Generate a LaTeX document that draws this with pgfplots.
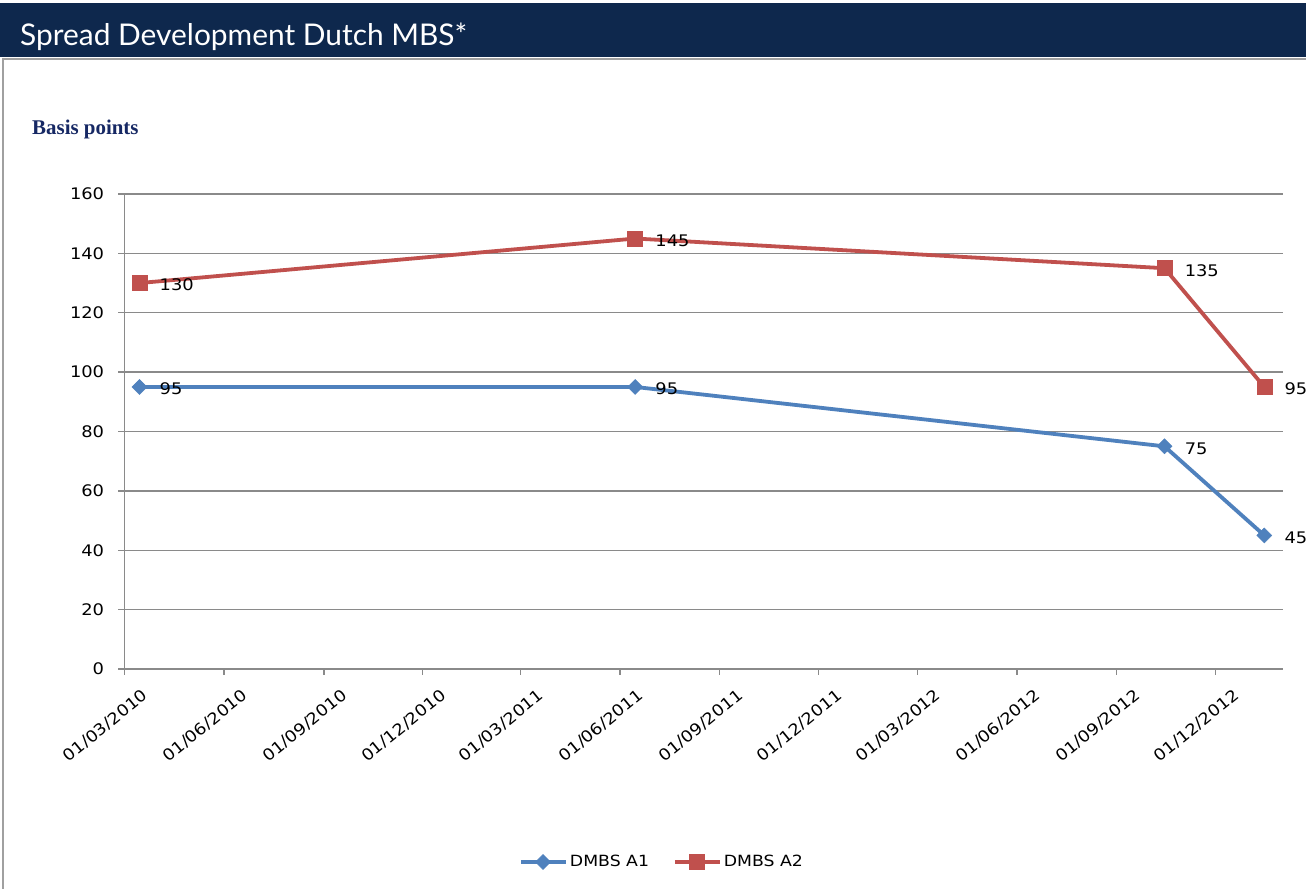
\documentclass[border=0pt]{standalone}
\usepackage{fontspec}
\usepackage{pgfplots}
\pgfplotsset{compat=1.18}
\setmainfont{Liberation Serif}
\newfontfamily\tickfont[FakeStretch=1.12]{DejaVu Sans}
\newfontfamily\titlefont{Lato}
\definecolor{navybar}{RGB}{14,40,77}
\definecolor{navytxt}{RGB}{22,40,100}
\definecolor{xlblue}{RGB}{79,129,189}
\definecolor{xlred}{RGB}{192,80,77}
\definecolor{gridgray}{RGB}{138,138,138}
\definecolor{bordergray}{RGB}{160,160,160}
\begin{document}
\begin{tikzpicture}[x=1bp,y=1bp]
\useasboundingbox (0,0) rectangle (1306,888);
\fill[white] (0,0) rectangle (1306,888);
\fill[navybar] (0,831) rectangle (1306,885);
\node[anchor=base west, inner sep=0, text=white, font={\titlefont\fontsize{30}{35}\selectfont}] at (20,842) {Spread Development Dutch MBS*};
\draw[bordergray, line width=2bp] (3,-2) -- (3,829) -- (1310,829);
\node[anchor=base west, inner sep=0, text=navytxt, font={\fontsize{21}{25}\selectfont\bfseries}] at (32,753) {Basis points};
\begin{axis}[
  at={(124.3bp,219bp)}, anchor=south west,
  scale only axis, width=1158.4bp, height=475bp,
  xmin=0, xmax=1068, ymin=0, ymax=160,
  axis x line*=bottom, axis y line*=left,
  axis line style={gridgray, line width=1.3bp, -},
  ytick={0,20,...,160},
  ymajorgrids, grid style={gridgray, line width=1.3bp},
  tick align=outside, major tick length=6bp,
  tick style={gridgray, line width=1.3bp},
  xtick={0,92,184,275,365,457,549,640,731,823,915,1006},
  xticklabels={01/03/2010,01/06/2010,01/09/2010,01/12/2010,01/03/2011,01/06/2011,01/09/2011,01/12/2011,01/03/2012,01/06/2012,01/09/2012,01/12/2012},
  /pgf/number format/assume math mode=true,
  yticklabel style={font={\tickfont\fontsize{16}{19}\selectfont}, anchor=east, inner sep=0, xshift=-14bp},
  xticklabel style={font={\tickfont\fontsize{16}{19}\selectfont}, inner sep=0, xshift=17bp, yshift=-13bp, rotate=39, anchor=north east},
  clip=false,
  nodes near coords,
  every node near coord/.append style={font={\tickfont\fontsize{16}{19}\selectfont}, text=black, anchor=west, inner sep=0, xshift=20bp, yshift=-2bp},
  legend columns=2,
  legend style={at={(0.4642,-0.4063)}, anchor=center, draw=none, fill=none, font={\tickfont\fontsize{15.5}{18}\selectfont},
    /tikz/every even column/.append style={column sep=22bp}},
  legend image code/.code={\draw[mark repeat=2,mark phase=2,#1] plot coordinates {(0bp,0bp) (22bp,0bp) (45bp,0bp)};},
]
\addplot[xlblue, line width=3.8bp, mark=square*, mark size=5.3bp, mark options={solid, rotate=45, fill=xlblue, line width=0.5bp}]
  coordinates {(14,95) (471,95) (959,75) (1051,45)};
\addlegendentry{DMBS A1}
\addplot[xlred, line width=3.8bp, mark=square*, mark size=7.5bp, mark options={solid, fill=xlred, line width=0.5bp}]
  coordinates {(14,130) (471,145) (959,135) (1051,95)};
\addlegendentry{DMBS A2}
\end{axis}
\end{tikzpicture}
\end{document}
